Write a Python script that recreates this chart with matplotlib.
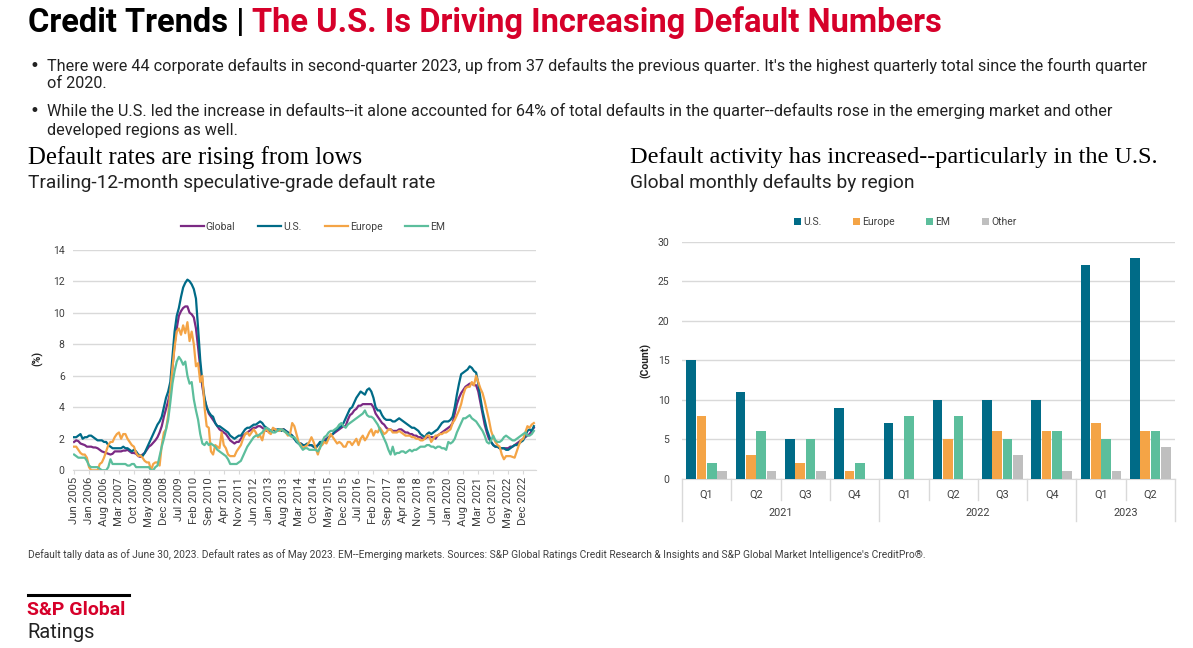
import numpy as np
import matplotlib
matplotlib.use("Agg")
import matplotlib.pyplot as plt
import matplotlib.transforms as mtransforms
from matplotlib.lines import Line2D

plt.rcParams['font.family'] = ['Roboto', 'DejaVu Sans']

# ---- left chart: trailing-12-month spec-grade default rate (%), monthly Jun 2005 - May 2023
global_rate = [
    1.8, 1.9, 1.85, 1.7, 1.65, 1.6, 1.5,                              # 2005 Jun-Dec
    1.5, 1.5, 1.45, 1.45, 1.4, 1.3, 1.2, 1.15, 1.1, 1.05, 1.0, 1.05,  # 2006
    1.2, 1.2, 1.2, 1.2, 1.25, 1.25, 1.3, 1.2, 1.1, 1.1, 1.05, 0.9,    # 2007
    0.85, 1.0, 1.1, 1.3, 1.5, 1.6, 1.75, 1.9, 2.1, 2.4, 2.8, 3.4,     # 2008
    3.9, 4.4, 5.0, 6.5, 8.0, 9.0, 9.8, 10.1, 10.3, 10.4, 10.4, 10.0,  # 2009
    9.9, 9.7, 9.0, 7.8, 6.5, 5.3, 4.5, 4.0, 3.6, 3.4, 3.2, 3.0,       # 2010
    2.8, 2.6, 2.5, 2.4, 2.3, 2.1, 1.9, 1.8, 1.7, 1.8, 1.8, 2.0,       # 2011
    2.2, 2.3, 2.4, 2.5, 2.6, 2.7, 2.7, 2.8, 2.8, 2.7, 2.6, 2.5,       # 2012
    2.5, 2.5, 2.6, 2.6, 2.5, 2.6, 2.6, 2.6, 2.5, 2.4, 2.3, 2.2,       # 2013
    2.0, 1.9, 1.7, 1.7, 1.6, 1.6, 1.6, 1.6, 1.6, 1.5, 1.5, 1.6,       # 2014
    1.7, 1.8, 1.9, 2.0, 2.1, 2.2, 2.3, 2.4, 2.5, 2.6, 2.7, 2.8,       # 2015
    2.8, 3.2, 3.5, 3.6, 3.8, 3.9, 4.1, 4.1, 4.2, 4.2, 4.2, 4.2,       # 2016
    4.2, 4.0, 3.6, 3.4, 3.2, 3.0, 2.9, 2.7, 2.6, 2.6, 2.5, 2.5,       # 2017
    2.5, 2.6, 2.6, 2.5, 2.4, 2.4, 2.3, 2.3, 2.2, 2.2, 2.1, 2.1,       # 2018
    2.0, 2.0, 2.1, 2.1, 2.1, 2.1, 2.0, 2.2, 2.3, 2.4, 2.5, 2.6,       # 2019
    2.7, 2.8, 3.0, 3.6, 4.2, 4.6, 4.9, 5.1, 5.3, 5.4, 5.5, 5.5,       # 2020
    5.4, 5.4, 5.0, 4.3, 3.6, 2.9, 2.4, 2.0, 1.8, 1.6, 1.5, 1.5,       # 2021
    1.4, 1.4, 1.4, 1.4, 1.4, 1.5, 1.5, 1.6, 1.7, 1.8, 1.9, 2.0,       # 2022
    2.1, 2.2, 2.3, 2.5, 2.7,                                          # 2023 Jan-May
]
us_rate = [
    2.1, 2.1, 2.2, 2.3, 2.0, 2.1, 2.1,
    2.2, 2.2, 2.1, 2.0, 1.9, 1.9, 1.9, 1.8, 1.8, 1.6, 1.5, 1.4,
    1.4, 1.4, 1.4, 1.4, 1.5, 1.4, 1.4, 1.3, 1.2, 1.3, 1.2, 1.0,
    0.95, 0.9, 1.1, 1.4, 1.7, 2.0, 2.3, 2.6, 2.9, 3.1, 3.4, 4.0,
    4.6, 5.0, 5.6, 7.2, 8.8, 9.8, 10.3, 11.0, 11.6, 11.9, 12.1, 12.0,
    11.8, 11.5, 10.9, 9.0, 7.0, 5.6, 4.6, 4.0, 3.7, 3.5, 3.4, 3.0,
    2.8, 2.8, 2.7, 2.6, 2.5, 2.4, 2.2, 2.1, 2.0, 2.1, 2.2, 2.2,
    2.4, 2.6, 2.7, 2.7, 2.8, 2.9, 2.9, 3.0, 3.1, 3.0, 2.8, 2.7,
    2.6, 2.5, 2.6, 2.5, 2.6, 2.6, 2.5, 2.6, 2.5, 2.4, 2.3, 2.2,
    2.0, 1.8, 1.7, 1.7, 1.6, 1.6, 1.7, 1.6, 1.6, 1.5, 1.4, 1.6,
    1.8, 1.8, 1.8, 1.9, 2.1, 2.2, 2.3, 2.5, 2.6, 2.7, 2.8, 3.0,
    3.3, 3.6, 3.9, 4.0, 4.3, 4.6, 4.8, 5.0, 4.9, 4.8, 5.1, 5.2,
    5.0, 4.6, 4.0, 3.8, 3.8, 3.5, 3.3, 3.2, 3.2, 3.2, 3.1, 3.1,
    3.2, 3.3, 3.2, 3.1, 3.0, 2.9, 2.8, 2.7, 2.7, 2.6, 2.5, 2.3,
    2.2, 2.1, 2.3, 2.4, 2.3, 2.4, 2.5, 2.6, 2.8, 3.0, 3.1, 3.1,
    3.1, 3.2, 3.4, 4.0, 4.8, 5.5, 6.1, 6.2, 6.3, 6.4, 6.6, 6.5,
    6.3, 6.2, 5.5, 4.6, 3.8, 3.2, 2.6, 2.2, 1.8, 1.6, 1.5, 1.5,
    1.4, 1.4, 1.4, 1.3, 1.3, 1.4, 1.5, 1.6, 1.6, 1.7, 1.8, 1.9,
    2.2, 2.5, 2.6, 2.5, 2.8,
]
europe_rate = [
    1.5, 1.5, 1.3, 1.1, 1.0, 1.0, 0.8,
    0.2, 0.0, 0.0, 0.0, 0.0, 0.4, 0.5, 0.8, 1.2, 1.6, 1.8, 1.8,
    2.1, 2.3, 2.4, 2.0, 2.3, 2.3, 2.0, 1.8, 1.6, 1.5, 1.1, 0.9,
    0.95, 0.8, 0.6, 0.5, 0.5, 0.0, 0.4, 0.5, 0.5, 0.3, 1.6, 2.4,
    2.6, 3.5, 5.0, 6.5, 7.8, 8.8, 9.0, 8.6, 9.2, 8.7, 9.4, 8.2,
    8.8, 8.0, 6.6, 6.8, 5.6, 6.0, 4.0, 2.8, 2.7, 1.2, 1.0, 1.6,
    1.5, 1.4, 2.4, 1.6, 1.4, 1.0, 0.9, 0.9, 0.9, 1.2, 1.4, 1.6,
    2.0, 2.3, 2.4, 2.2, 2.4, 2.6, 2.4, 2.1, 2.2, 1.9, 2.5, 2.6,
    2.4, 2.3, 2.7, 2.6, 2.5, 2.5, 2.6, 2.5, 2.4, 2.2, 2.3, 3.0,
    2.8, 2.3, 1.8, 1.6, 1.4, 1.5, 1.6, 1.8, 2.1, 1.8, 1.4, 1.0,
    1.5, 1.6, 1.8, 1.7, 2.0, 2.3, 2.1, 1.9, 1.7, 1.8, 1.7, 1.5,
    1.5, 1.8, 1.8, 1.6, 1.8, 2.0, 1.6, 2.0, 2.2, 1.9, 2.1, 2.4,
    2.6, 2.2, 2.5, 2.4, 2.7, 2.5, 2.3, 2.4, 2.6, 2.6, 2.4, 2.4,
    2.4, 2.5, 2.4, 2.3, 2.2, 2.2, 2.2, 2.1, 2.1, 2.0, 2.0, 1.9,
    1.9, 2.0, 2.2, 2.2, 1.8, 2.0, 2.2, 2.2, 2.3, 2.3, 2.4, 2.4,
    2.5, 2.6, 3.0, 3.2, 3.5, 3.8, 4.2, 4.8, 5.2, 5.3, 5.3, 5.6,
    5.4, 6.0, 5.6, 5.2, 4.9, 4.4, 3.8, 3.2, 2.5, 2.1, 1.8, 1.6,
    1.5, 1.0, 0.7, 0.9, 0.9, 0.9, 0.85, 0.8, 1.2, 1.6, 1.9, 2.0,
    2.4, 2.8, 2.7, 2.9, 3.0,
]
em_rate = [
    1.0, 0.9, 0.8, 0.8, 0.8, 0.8, 0.6,
    0.3, 0.2, 0.2, 0.2, 0.2, 0.1, 0.0, 0.0, 0.0, 0.2, 0.7, 0.4,
    0.4, 0.4, 0.4, 0.4, 0.4, 0.4, 0.3, 0.3, 0.4, 0.4, 0.2, 0.2,
    0.2, 0.2, 0.2, 0.2, 0.2, 0.0, 0.0, 0.2, 0.3, 0.9, 1.5, 2.0,
    2.6, 3.2, 4.3, 5.5, 6.3, 6.9, 7.2, 7.0, 6.7, 6.9, 6.0, 5.5,
    5.6, 4.5, 3.8, 3.2, 2.3, 1.7, 1.6, 1.8, 1.6, 1.7, 1.6, 1.5,
    1.3, 1.2, 1.1, 1.0, 0.9, 0.7, 0.4, 0.4, 0.4, 0.4, 0.5, 0.6,
    0.9, 1.2, 1.5, 1.7, 1.9, 2.1, 2.2, 2.2, 2.3, 2.4, 2.6, 2.7,
    2.6, 2.5, 2.4, 2.4, 2.5, 2.6, 2.6, 2.5, 2.4, 2.3, 2.2, 2.1,
    2.1, 1.9, 1.7, 1.5, 1.3, 1.4, 1.4, 1.3, 1.3, 1.3, 1.3, 1.2,
    1.4, 1.8, 2.1, 2.2, 2.4, 2.5, 2.5, 2.6, 2.7, 2.9, 3.0, 2.8,
    2.7, 2.9, 3.0, 3.1, 3.2, 3.3, 3.4, 3.5, 3.6, 3.8, 3.5, 3.4,
    3.4, 3.3, 3.1, 2.9, 2.6, 2.3, 2.0, 1.7, 1.3, 1.0, 1.5, 1.0,
    1.1, 1.1, 1.2, 1.2, 1.1, 1.2, 1.3, 1.2, 1.3, 1.3, 1.4, 1.5,
    1.5, 1.5, 1.6, 1.6, 1.5, 1.5, 1.4, 1.5, 1.5, 1.4, 1.4, 1.3,
    1.8, 1.7, 1.8, 2.0, 2.4, 2.7, 3.0, 3.3, 3.3, 3.4, 3.5, 3.3,
    3.2, 3.1, 2.9, 2.7, 2.5, 2.2, 1.8, 1.7, 1.9, 2.2, 1.9, 1.8,
    1.8, 1.9, 2.1, 2.2, 2.1, 2.0, 1.9, 1.9, 2.0, 2.1, 2.2, 2.3,
    2.4, 2.2, 2.2, 2.3, 2.5,
]
month_ticks = ['Jun 2005', 'Jan 2006', 'Aug 2006', 'Mar 2007', 'Oct 2007', 'May 2008',
               'Dec 2008', 'Jul 2009', 'Feb 2010', 'Sep 2010', 'Apr 2011', 'Nov 2011',
               'Jun 2012', 'Jan 2013', 'Aug 2013', 'Mar 2014', 'Oct 2014', 'May 2015',
               'Dec 2015', 'Jul 2016', 'Feb 2017', 'Sep 2017', 'Apr 2018', 'Nov 2018',
               'Jun 2019', 'Jan 2020', 'Aug 2020', 'Mar 2021', 'Oct 2021', 'May 2022',
               'Dec 2022']
tick_step = 7  # months between labels

# ---- right chart: defaults by region per quarter
quarters = ['Q1', 'Q2', 'Q3', 'Q4', 'Q1', 'Q2', 'Q3', 'Q4', 'Q1', 'Q2']
years = ['2021', '2022', '2023']
quarters_per_year = [4, 4, 2]
us_cnt = [15, 11, 5, 9, 7, 10, 10, 10, 27, 28]
europe_cnt = [8, 3, 2, 1, 0, 5, 6, 6, 7, 6]
em_cnt = [2, 6, 5, 2, 8, 8, 5, 6, 5, 6]
other_cnt = [1, 1, 1, 0, 0, 0, 3, 1, 1, 4]

C_GLOBAL = '#7B2A84'
C_US = '#006B87'
C_EUR = '#F4A446'
C_EM = '#5CBE9C'
C_OTHER = '#BFBFBF'
C_RED = '#D6002A'
C_GRID = '#D9D9D9'
C_TXT = '#404040'

W, H = 1193, 648
fig = plt.figure(figsize=(W / 100, H / 100), dpi=100)


def fx(px):
    return px / W


def fy(py):
    return 1 - py / H


# ---- header
t1 = fig.text(fx(28), fy(23), 'Credit Trends |', fontsize=23.5, fontweight='bold',
              color='black', va='center')
fig.canvas.draw()
bb = t1.get_window_extent(fig.canvas.get_renderer())
fig.text(bb.x1 / W + fx(7), fy(23), 'The U.S. Is Driving Increasing Default Numbers',
         fontsize=23.5, fontweight='bold', color=C_RED, va='center')

bullets = [
    (66, 'There were 44 corporate defaults in second-quarter 2023, up from 37 defaults the previous quarter. '
         "It's the highest quarterly total since the fourth quarter"),
    (84, 'of 2020.'),
    (111, 'While the U.S. led the increase in defaults--it alone accounted for 64% of total defaults in the '
          'quarter--defaults rose in the emerging market and other'),
    (130, 'developed regions as well.'),
]
for i, (yy, txt) in enumerate(bullets):
    if i in (0, 2):
        fig.text(fx(29), fy(yy), '\u2022', fontsize=12, family='DejaVu Sans',
                 color='#222222', va='center')
    fig.text(fx(47), fy(yy), txt, fontsize=11.7, color='#222222', va='center')

fig.text(fx(28), fy(158), 'Default rates are rising from lows', fontsize=17.8,
         family='Liberation Serif', color='black', va='center')
fig.text(fx(28), fy(183), 'Trailing-12-month speculative-grade default rate', fontsize=13.8,
         color='#222222', va='center')
fig.text(fx(630), fy(158), 'Default activity has increased--particularly in the U.S.', fontsize=17.5,
         family='Liberation Serif', color='black', va='center')
fig.text(fx(630), fy(183), 'Global monthly defaults by region', fontsize=13.8,
         color='#222222', va='center')

# ---- left chart
ax1 = fig.add_axes([fx(73), fy(470.3), fx(463), 220.6 / H])
x = np.arange(len(us_rate))
for vals, col, name in [(global_rate, C_GLOBAL, 'Global'), (us_rate, C_US, 'U.S.'),
                        (europe_rate, C_EUR, 'Europe'), (em_rate, C_EM, 'EM')]:
    ax1.plot(x, vals, color=col, lw=1.6, label=name)
ax1.set_xlim(-0.5, len(us_rate))
ax1.set_ylim(0, 14)
ax1.set_yticks(range(0, 15, 2))
ax1.grid(axis='y', color=C_GRID, lw=1)
ax1.set_axisbelow(True)
ax1.set_xticks(np.arange(len(month_ticks)) * tick_step)
ax1.set_xticklabels(month_ticks, rotation=90, fontsize=8.2, color=C_TXT)
ax1.tick_params(axis='x', length=3, color=C_GRID, pad=2)
ax1.tick_params(axis='y', length=0, labelsize=7.5, labelcolor=C_TXT, pad=6)
for s in ['top', 'right', 'left']:
    ax1.spines[s].set_visible(False)
ax1.spines['bottom'].set_color(C_GRID)
fig.text(fx(38), fy(358), '(%)', rotation=90, fontsize=7.5, fontweight='bold',
         color='#222222', ha='center', va='center')
ax1.legend(loc='center', bbox_to_anchor=(fx(313), fy(227)), bbox_transform=fig.transFigure,
           ncol=4, frameon=False, fontsize=7.5, handlelength=2.2, handletextpad=0.2,
           columnspacing=2.2, labelcolor=C_TXT)

# ---- right chart
ax2 = fig.add_axes([fx(682), fy(478.7), fx(493), 237 / H])
xq = np.arange(len(quarters))
step, bw = 0.21, 0.195
series = [(us_cnt, C_US, 'U.S.'), (europe_cnt, C_EUR, 'Europe'),
          (em_cnt, C_EM, 'EM'), (other_cnt, C_OTHER, 'Other')]
for k, (vals, col, name) in enumerate(series):
    ax2.bar(xq + (k - 1.5) * step, vals, width=bw, color=col, label=name, zorder=3)
ax2.set_xlim(-0.5, len(quarters) - 0.5)
ax2.set_ylim(0, 30)
ax2.set_yticks(range(0, 31, 5))
ax2.grid(axis='y', color=C_GRID, lw=1, zorder=0)
ax2.set_xticks(xq)
ax2.set_xticklabels(quarters, fontsize=7.8, color=C_TXT)
ax2.tick_params(axis='x', length=0, pad=8)
ax2.tick_params(axis='y', length=0, labelsize=7.5, labelcolor=C_TXT, pad=9)
for s in ['top', 'right', 'left']:
    ax2.spines[s].set_visible(False)
ax2.spines['bottom'].set_color(C_GRID)

trans = mtransforms.blended_transform_factory(ax2.transData, ax2.transAxes)
short_y = -21 / 237
long_y = -42 / 237
bounds = np.cumsum([0] + quarters_per_year)
for b in range(len(quarters) + 1):
    yb = long_y if b in bounds else short_y
    ax2.plot([b - 0.5, b - 0.5], [0, yb], color=C_GRID, lw=1, transform=trans, clip_on=False)
for yr, a, b in zip(years, bounds[:-1], bounds[1:]):
    ax2.text((a + b - 1) / 2, -34 / 237, yr, transform=trans, ha='center', va='center',
             fontsize=7.8, color=C_TXT)
fig.text(fx(646), fy(360), '(Count)', rotation=90, fontsize=7.5, fontweight='bold',
         color='#222222', ha='center', va='center')
ax2.legend(loc='center', bbox_to_anchor=(fx(905), fy(222)), bbox_transform=fig.transFigure,
           ncol=4, frameon=False, fontsize=7.5, handlelength=0.7, handleheight=0.7,
           handletextpad=0.2, columnspacing=3.0, labelcolor=C_TXT)

# ---- footer
fig.text(fx(28), fy(555), 'Default tally data as of June 30, 2023. Default rates as of May 2023. '
         "EM--Emerging markets. Sources: S&P Global Ratings Credit Research & Insights and "
         "S&P Global Market Intelligence's CreditPro\u00ae.", fontsize=7.4, color=C_TXT, va='center')
fig.add_artist(Line2D([fx(28), fx(129)], [fy(595), fy(595)], color='black', lw=2.2))
fig.text(fx(27), fy(610), 'S&P Global', fontsize=14, fontweight='bold', color=C_RED, va='center')
fig.text(fx(27), fy(632), 'Ratings', fontsize=14.5, color='#222222', va='center')

fig.savefig('out.png', dpi=100)
